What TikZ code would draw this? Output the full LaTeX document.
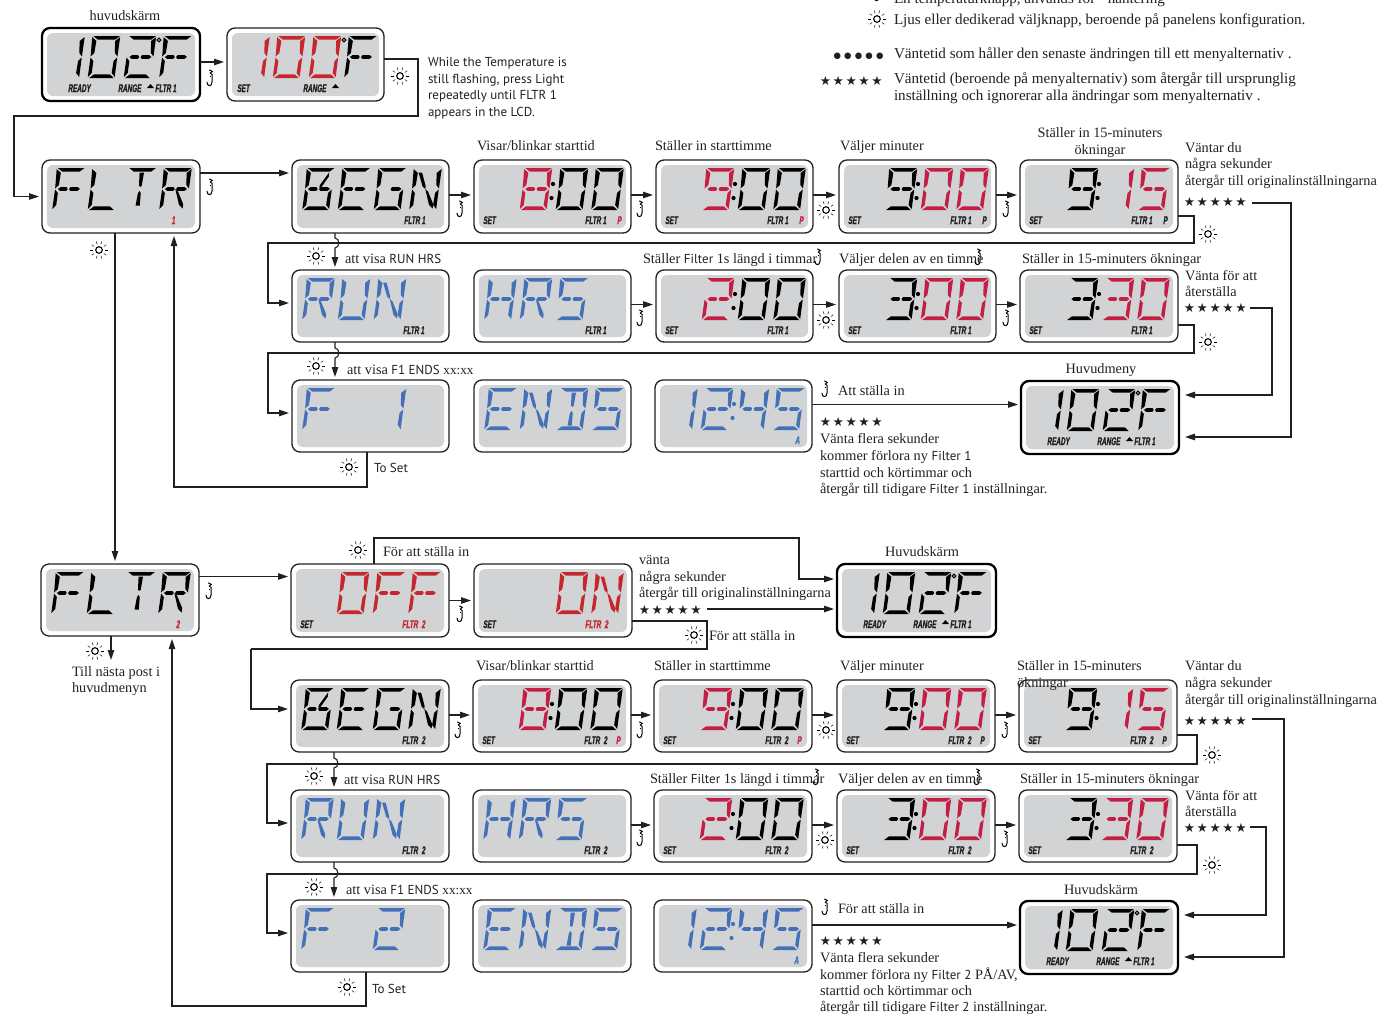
\documentclass[tikz,border=0pt]{standalone}
\usepackage{fontspec}
\usetikzlibrary{arrows.meta}
\setmainfont{Liberation Serif}
\newfontfamily\psans{PT Sans}
\newfontfamily\djv{DejaVu Sans}
\newfontfamily\lcdf[FakeStretch=.58,FakeSlant=.14,FakeBold=1]{Liberation Sans}
\definecolor{lcdgray}{HTML}{D1D3D4}
\definecolor{ink}{HTML}{231F20}
\definecolor{tred}{HTML}{C4272E}
\definecolor{cred}{HTML}{C41E45}
\definecolor{lblue}{HTML}{4470B8}
\tikzset{
 pthin/.style={draw=ink,fill=white,line width=1.3pt,rounded corners=8pt,inner sep=0pt,outer sep=0pt},
 pthick/.style={draw=black,fill=white,line width=2.3pt,rounded corners=8pt,inner sep=0pt,outer sep=0pt},
 arr/.style={draw=ink,line width=1.1pt,-{Triangle[length=10pt,width=6.5pt]},shorten >=3pt},
 wire/.style={draw=ink,line width=1.1pt},
 txt/.style={anchor=base west,inner sep=0pt,outer sep=0pt,text=ink,font=\fontsize{14.3}{16}\selectfont},
 ltxt/.style={txt,font=\fontsize{15.1}{17}\selectfont},
 ctxt/.style={txt,anchor=base},
 stxt/.style={txt,font=\psans\fontsize{13}{16}\selectfont},
 lcdl/.style={anchor=base west,inner sep=0pt,outer sep=0pt,text=ink,font=\lcdf\bfseries\fontsize{11}{11}\selectfont},
}
\newcount\nn
\newcommand\TT[4][txt]{\global\advance\nn 1 \node[#1] (t\the\nn) at (#2,#3) {#4};}
\newcommand\SF[1]{{\psans\fontsize{13}{16}\selectfont #1}}
\newcommand\XX{{\fontsize{13.2}{16}\selectfont xx:xx}}
\newcommand\fivestars{{\djv\fontsize{12.6}{14}\selectfont\makebox[12.9pt]{★}\makebox[12.9pt]{★}\makebox[12.9pt]{★}\makebox[12.9pt]{★}\makebox[12.9pt]{★}}}
\newcommand\fivedots{{\djv\fontsize{8.5}{14}\selectfont\makebox[10.6pt]{●}\makebox[10.6pt]{●}\makebox[10.6pt]{●}\makebox[10.6pt]{●}\makebox[10.6pt]{●}}}
% panel
\newcommand\panel[6]{%
 \node[#1,minimum width=#5pt,minimum height=#6pt,anchor=north west] (#2) at (#3,#4) {};
 \fill[lcdgray,rounded corners=6pt] (#3+5,#4+5) rectangle (#3+#5-5,#4+#6-5);
 \gdef\curx{#3}\gdef\cury{#4}}
% segments
\def\sga{\fill (1.2,0)--(27.8,0)--(23.5,3.6)--(6,3.6)--cycle;}
\def\sgd{\fill (1.6,42)--(26.2,42)--(22,38.4)--(6,38.4)--cycle;}
\def\sgf{\fill (0.2,1)--(4.8,5)--(4.1,17)--(0.8,20.5)--cycle;}
\def\sge{\fill (0.8,21.5)--(4,25)--(3.7,37)--(0.2,41)--cycle;}
\def\sgb{\fill (28.2,1)--(27.6,20.5)--(24.6,17)--(23.6,5)--cycle;}
\def\sgc{\fill (27.5,21.5)--(27.1,41)--(23.6,37)--(24.2,25)--cycle;}
\def\sgg{\fill (3.6,21)--(6,19.2)--(12.2,19.2)--(13.4,21)--(12.2,22.8)--(6,22.8)--cycle;}
\def\sgh{\fill (14.8,21)--(16,19.2)--(23.4,19.2)--(25.6,21)--(23.4,22.8)--(16,22.8)--cycle;}
\def\sgj{\fill (12,4.5)--(16.4,4.5)--(15.6,17.5)--(14.2,19)--(12.8,17.5)--cycle;}
\def\sgl{\fill (14,23)--(15.4,25)--(15.8,37.5)--(11.6,37.5)--(12.6,25)--cycle;}
\def\sgi{\fill (5.5,4.5)--(9,4.5)--(14,18)--(14,21)--(11,18.5)--cycle;}
\def\sgn{\fill (14,21)--(17,23.5)--(23.5,36)--(23.5,40.5)--(19.5,37)--cycle;}
\def\sgk{\fill (23,4.5)--(23.2,8.5)--(17,19)--(14.6,19.5)--(15.5,16.5)--cycle;}
% characters
\def\cF{a,f,e,g,h}\def\cL{f,e,d}\def\cT{a,j,l}\def\cR{a,f,e,b,g,h,n}
\def\cB{a,f,e,d,c,g,h,k}\def\cE{a,f,e,d,g,h}\def\cG{a,f,e,d,c,h}\def\cN{f,e,b,c,i,n}
\def\cU{f,e,d,c,b}\def\cH{f,e,b,c,g,h}\def\cS{a,f,g,h,c,d}\def\cD{a,d,j,l,b,c}
\def\cO{a,b,c,d,e,f}\def\cI{b,c}\def\cII{a,b,g,h,e,d}\def\cIII{a,b,g,h,c,d}\def\cIV{f,b,g,h,c}
\def\cVIII{a,b,c,d,e,f,g,h}\def\cIX{a,f,b,g,h,c,d}
\def\SA{10}\def\SB{45.5}\def\SC{81.5}\def\SD{117}
\newcommand\ch[3]{\begin{scope}[shift={({\curx+#1+4.6},{\cury+8})},xslant=0.11,fill=#2]\foreach \s in #3 {\csname sg\s\endcsname}\end{scope}}
\newcommand\coln[1]{\fill[#1] (\curx+79,\cury+24) circle (2.1); \fill[#1] (\curx+77.5,\cury+38) circle (2.1);}
\newcommand\degr{\draw[black,line width=1.1pt] (\curx+117,\cury+12) circle (1.9);}
\newcommand\lcl[2]{\global\advance\nn 1 \node[lcdl] (t\the\nn) at (\curx+#1,\cury+64) {#2};}
\newcommand\tri[1]{\fill[black] (\curx+#1,\cury+60)--(\curx+#1+7,\cury+60)--(\curx+#1+3.5,\cury+56)--cycle;}
% icons
\newcommand\sun[2]{\begin{scope}[shift={(#1,#2)}]\draw[black,line width=1.1pt] (0,0) circle (3.3);
 \foreach \a in {0,36,...,324}{\draw[black,line width=.45pt] (\a:6) -- (\a:9);}\end{scope}}
\newcommand\hook[2]{\begin{scope}[shift={(#1,#2)}]\draw[black,line width=1pt,line cap=round] (-1.5,-9)--(1.2,-7.6)--(-.6,-6)--(1,-4.6)--(1,3) .. controls (1,7.8) and (-4,7.8) .. (-4,3.2);\draw[black,line width=.7pt] (-1.2,-2.5)--(.4,-2.5);\end{scope}}
\newcommand\readyrow{\lcl{26}{READY}\lcl{76}{RANGE}\tri{105}\lcl{113}{FLTR 1}}
\begin{document}
\begin{tikzpicture}[x=1pt,y=-1pt]
\useasboundingbox (0,0) rectangle (1390,1013);
% ---------- Section 1 panels
\panel{pthick}{p00}{42}{28}{158}{73}
\ch{\SA}{black}{\cI}\ch{\SB}{black}{\cO}\ch{\SC}{black}{\cII}\ch{\SD}{black}{\cF}\degr\readyrow
\panel{pthin}{p01}{227}{28}{157}{73}
\ch{\SA}{tred}{\cI}\ch{\SB}{tred}{\cO}\ch{\SC}{tred}{\cO}\ch{\SD}{black}{\cF}\degr\lcl{10}{SET}\lcl{76}{RANGE}\tri{105}
\panel{pthin}{f1}{42}{160}{158}{73}
\ch{\SA}{black}{\cF}\ch{\SB}{black}{\cL}\ch{\SC}{black}{\cT}\ch{\SD}{black}{\cR}\lcl{129.5}{\textcolor{tred}{1}}
\panel{pthin}{b1}{292}{160}{157}{73}
\ch{\SA}{black}{\cB}\ch{\SB}{black}{\cE}\ch{\SC}{black}{\cG}\ch{\SD}{black}{\cN}\lcl{112}{FLTR 1}
\panel{pthin}{s1a}{474}{160}{157}{73}
\ch{\SB}{cred}{\cVIII}\coln{black}\ch{\SC}{black}{\cO}\ch{\SD}{black}{\cO}\lcl{9}{SET}\lcl{111}{FLTR 1}\lcl{143}{\textcolor{cred}{P}}
\panel{pthin}{s1b}{656}{160}{157}{73}
\ch{\SB}{cred}{\cIX}\coln{black}\ch{\SC}{black}{\cO}\ch{\SD}{black}{\cO}\lcl{9}{SET}\lcl{111}{FLTR 1}\lcl{143}{\textcolor{cred}{P}}
\panel{pthin}{s1c}{839}{160}{157}{73}
\ch{\SB}{black}{\cIX}\coln{black}\ch{\SC}{cred}{\cO}\ch{\SD}{cred}{\cO}\lcl{9}{SET}\lcl{111}{FLTR 1}\lcl{143}{P}
\panel{pthin}{s1d}{1020}{160}{158}{73}
\ch{\SB}{black}{\cIX}\coln{black}\ch{\SC}{cred}{\cI}\ch{\SD}{cred}{\cS}\lcl{9}{SET}\lcl{111}{FLTR 1}\lcl{143}{P}
% row 2
\panel{pthin}{r1}{292}{270}{157}{72}
\ch{\SA}{lblue}{\cR}\ch{\SB}{lblue}{\cU}\ch{\SC}{lblue}{\cN}\lcl{111}{FLTR 1}
\panel{pthin}{h1}{474}{270}{157}{72}
\ch{\SA}{lblue}{\cH}\ch{\SB}{lblue}{\cR}\ch{\SC}{lblue}{\cS}\lcl{111}{FLTR 1}
\panel{pthin}{u1a}{656}{270}{157}{72}
\ch{\SB}{cred}{\cII}\coln{black}\ch{\SC}{black}{\cO}\ch{\SD}{black}{\cO}\lcl{9}{SET}\lcl{111}{FLTR 1}
\panel{pthin}{u1b}{839}{270}{157}{72}
\ch{\SB}{black}{\cIII}\coln{black}\ch{\SC}{cred}{\cO}\ch{\SD}{cred}{\cO}\lcl{9}{SET}\lcl{111}{FLTR 1}
\panel{pthin}{u1c}{1020}{270}{158}{72}
\ch{\SB}{black}{\cIII}\coln{black}\ch{\SC}{cred}{\cIII}\ch{\SD}{cred}{\cO}\lcl{9}{SET}\lcl{111}{FLTR 1}
% row 3
\panel{pthin}{fp1}{292}{380}{157}{72}
\ch{\SA}{lblue}{\cF}\ch{\SC}{lblue}{\cI}
\panel{pthin}{e1}{474}{380}{157}{72}
\ch{\SA}{lblue}{\cE}\ch{\SB}{lblue}{\cN}\ch{\SC}{lblue}{\cD}\ch{\SD}{lblue}{\cS}
\panel{pthin}{c1}{655}{380}{157}{72}
\ch{\SA}{lblue}{\cI}\ch{\SB}{lblue}{\cII}\coln{lblue}\ch{\SC}{lblue}{\cIV}\ch{\SD}{lblue}{\cS}\lcl{140}{\textcolor{lblue}{A}}
\panel{pthick}{hm1}{1021}{381}{158}{73}
\ch{\SA}{black}{\cI}\ch{\SB}{black}{\cO}\ch{\SC}{black}{\cII}\ch{\SD}{black}{\cF}\degr\readyrow
% ---------- Section 2 panels
\panel{pthin}{f2}{41}{564}{158}{72}
\ch{\SA}{black}{\cF}\ch{\SB}{black}{\cL}\ch{\SC}{black}{\cT}\ch{\SD}{black}{\cR}\lcl{135}{\textcolor{tred}{2}}
\panel{pthin}{off}{291}{564}{158}{73}
\ch{\SB}{tred}{\cO}\ch{\SC}{tred}{\cF}\ch{\SD}{tred}{\cF}\lcl{9}{SET}\lcl{111}{\textcolor{tred}{FLTR\,\,2}}
\panel{pthin}{on}{474}{564}{158}{73}
\ch{\SC}{tred}{\cO}\ch{\SD}{tred}{\cN}\lcl{9}{SET}\lcl{111}{\textcolor{tred}{FLTR\,\,2}}
\panel{pthick}{hs}{837}{564}{159}{73}
\ch{\SA}{black}{\cI}\ch{\SB}{black}{\cO}\ch{\SC}{black}{\cII}\ch{\SD}{black}{\cF}\degr\readyrow
\panel{pthin}{b2}{291}{680}{158}{72}
\ch{\SA}{black}{\cB}\ch{\SB}{black}{\cE}\ch{\SC}{black}{\cG}\ch{\SD}{black}{\cN}\lcl{111}{FLTR\,\,2}
\panel{pthin}{s2a}{473}{680}{158}{72}
\ch{\SB}{cred}{\cVIII}\coln{black}\ch{\SC}{black}{\cO}\ch{\SD}{black}{\cO}\lcl{9}{SET}\lcl{111}{FLTR\,\,2}\lcl{143}{\textcolor{cred}{P}}
\panel{pthin}{s2b}{654}{680}{158}{72}
\ch{\SB}{cred}{\cIX}\coln{black}\ch{\SC}{black}{\cO}\ch{\SD}{black}{\cO}\lcl{9}{SET}\lcl{111}{FLTR\,\,2}\lcl{143}{\textcolor{cred}{P}}
\panel{pthin}{s2c}{837}{680}{158}{72}
\ch{\SB}{black}{\cIX}\coln{black}\ch{\SC}{cred}{\cO}\ch{\SD}{cred}{\cO}\lcl{9}{SET}\lcl{111}{FLTR\,\,2}\lcl{143}{P}
\panel{pthin}{s2d}{1019}{680}{158}{72}
\ch{\SB}{black}{\cIX}\coln{black}\ch{\SC}{cred}{\cI}\ch{\SD}{cred}{\cS}\lcl{9}{SET}\lcl{111}{FLTR\,\,2}\lcl{143}{P}
\panel{pthin}{r2}{291}{790}{158}{72}
\ch{\SA}{lblue}{\cR}\ch{\SB}{lblue}{\cU}\ch{\SC}{lblue}{\cN}\lcl{111}{FLTR\,\,2}
\panel{pthin}{h2}{473}{790}{158}{72}
\ch{\SA}{lblue}{\cH}\ch{\SB}{lblue}{\cR}\ch{\SC}{lblue}{\cS}\lcl{111}{FLTR\,\,2}
\panel{pthin}{u2a}{654}{790}{158}{72}
\ch{\SB}{cred}{\cII}\coln{black}\ch{\SC}{black}{\cO}\ch{\SD}{black}{\cO}\lcl{9}{SET}\lcl{111}{FLTR\,\,2}
\panel{pthin}{u2b}{837}{790}{158}{72}
\ch{\SB}{black}{\cIII}\coln{black}\ch{\SC}{cred}{\cO}\ch{\SD}{cred}{\cO}\lcl{9}{SET}\lcl{111}{FLTR\,\,2}
\panel{pthin}{u2c}{1019}{790}{158}{72}
\ch{\SB}{black}{\cIII}\coln{black}\ch{\SC}{cred}{\cIII}\ch{\SD}{cred}{\cO}\lcl{9}{SET}\lcl{111}{FLTR\,\,2}
\panel{pthin}{fp2}{291}{900}{158}{72}
\ch{\SA}{lblue}{\cF}\ch{\SC}{lblue}{\cII}
\panel{pthin}{e2}{473}{900}{158}{72}
\ch{\SA}{lblue}{\cE}\ch{\SB}{lblue}{\cN}\ch{\SC}{lblue}{\cD}\ch{\SD}{lblue}{\cS}
\panel{pthin}{c2}{654}{900}{158}{72}
\ch{\SA}{lblue}{\cI}\ch{\SB}{lblue}{\cII}\coln{lblue}\ch{\SC}{lblue}{\cIV}\ch{\SD}{lblue}{\cS}\lcl{140}{\textcolor{lblue}{A}}
\panel{pthick}{hm2}{1020}{901}{158}{73}
\ch{\SA}{black}{\cI}\ch{\SB}{black}{\cO}\ch{\SC}{black}{\cII}\ch{\SD}{black}{\cF}\degr\readyrow
% ---------- free corner coordinates
\coordinate (k1) at (14,116);
\coordinate (k2) at (268,243);
\coordinate (k3) at (268,353);
\coordinate (k4) at (251,649);
\coordinate (k5) at (267,764);
\coordinate (k6) at (267,874);
\coordinate (z1) at (1252,203);
\coordinate (z2) at (1250,308);
\coordinate (z3) at (707,609);
\coordinate (z4) at (1252,719);
\coordinate (z5) at (1250,827);
% ---------- connectors section 1
\draw[arr] ([yshift=2.5pt]p00.east) -- ([yshift=2.5pt]p01.west);
\draw[arr] ([yshift=5.5pt]p01.east) -- ++(34,0) |- (k1) |- (f1.west);
\draw[arr] ([yshift=23.5pt]f1.east) -- ([yshift=23.5pt]b1.west);
\foreach \a/\b in {b1/s1a,s1a/s1b,s1b/s1c,s1c/s1d,h1/u1a,u1a/u1b,u1b/u1c}{\draw[arr] ([yshift=1.5pt]\a.east) -- ([yshift=1.5pt]\b.west);}
\draw[arr] ([yshift=-19.5pt]s1d.east) -- ++(16,0) |- (k2) |- ([yshift=3pt]r1.west);
\draw[arr] ([yshift=-19pt]u1c.east) -- ++(16,0) |- (k3) |- ([yshift=3pt]fp1.west);
\draw[arr] ([xshift=-35.5pt]b1.south) -- ++(0,5) .. controls +(5,0) and +(5,0) .. ++(0,10) -- ([xshift=-35.5pt]r1.north);
\draw[arr] ([xshift=-35.5pt]r1.south) -- ++(0,6) .. controls +(5,0) and +(5,0) .. ++(0,10) -- ([xshift=-35.5pt]fp1.north);
\draw[arr] ([yshift=11.5pt]c1.east) -- ([yshift=11.5pt]c1.east -| hm1.west);
\draw[arr,shorten >=6pt] (z1) -- ++(39,0) |- ([yshift=-19.5pt]hm1.east);
\draw[arr,shorten >=6pt] (z2) -- ++(22,0) |- ([yshift=22.5pt]hm1.east);
\draw[arr] ([xshift=-6pt]f1.south) -- ([xshift=-6pt]f1.south |- f2.north);
\draw[arr] ([xshift=-3.5pt]fp1.south) -- ++(0,35) -| ([xshift=53pt]f1.south);
% ---------- connectors section 2
\draw[arr] ([yshift=23.5pt]f2.east) -- ([yshift=23.5pt]f2.east -| off.west);
\draw[arr] (off.east) -- (on.west);
\draw[wire] ([yshift=-20.5pt]on.east) -- ++(75,0) |- (k4);
\draw[arr] (k4) |- ([yshift=7pt]b2.west);
\draw[arr] ([xshift=4pt]off.north) -- ++(0,-26) -| ([xshift=-38pt,yshift=21.5pt]hs.west) -- ([yshift=21.5pt]hs.west);
\draw[arr] (z3) -- (hs.west |- z3);
\draw[arr,shorten >=0pt] ([xshift=-9pt]f2.south) -- ++(0,24);
\draw[arr] ([xshift=-4pt]fp2.south) -- ++(0,34) -| ([xshift=52pt]f2.south);
\foreach \a/\b in {b2/s2a,s2a/s2b,s2b/s2c,s2c/s2d,h2/u2a,u2a/u2b,u2b/u2c}{\draw[arr] ([yshift=1pt]\a.east) -- ([yshift=1pt]\b.west);}
\draw[arr] ([yshift=-19pt]s2d.east) -- ++(20,0) |- (k5) |- ([yshift=3pt]r2.west);
\draw[arr] ([yshift=-19pt]u2c.east) -- ++(20,0) |- (k6) |- ([yshift=3pt]fp2.west);
\draw[arr] ([xshift=-36pt]b2.south) -- ++(0,6) .. controls +(5,0) and +(5,0) .. ++(0,10) -- ([xshift=-36pt]r2.north);
\draw[arr] ([xshift=-36pt]r2.south) -- ++(0,6) .. controls +(5,0) and +(5,0) .. ++(0,10) -- ([xshift=-36pt]fp2.north);
\draw[arr] ([yshift=11pt]c2.east) -- ([yshift=11pt]c2.east -| hm2.west);
\draw[arr,shorten >=6pt] (z4) -- ++(32,0) |- ([yshift=-19.5pt]hm2.east);
\draw[arr,shorten >=6pt] (z5) -- ++(16,0) |- ([yshift=22.5pt]hm2.east);
% ---------- icons
\foreach \x/\y in {400/76,99/250,316/256,1208/234,826/210,826/320,1208/342,316/366,349/467,358/550,694/635,95/651,826/730,825/840,1212/755,1212/865,314/776,314/887,347/987,877/19}{\sun{\x}{\y}}
\foreach \x/\y in {211/79,211/188,461/210,641/210,1007/210,641/319,1007/319,819/258,979/258,826/390,210/592,461/615,459/731,641/731,1006/731,641/839,1006/840,817/778,978/778,826/908,878/-6}{\hook{\x}{\y}}
% ---------- texts
\TT[ctxt]{125}{20}{huvudskärm}
\TT[stxt]{428}{66}{While the Temperature is}
\TT[stxt]{428}{83}{still flashing, press Light}
\TT[stxt]{428}{99}{repeatedly until FLTR 1}
\TT[stxt]{428}{116}{appears in the LCD.}
\TT[ltxt]{894}{3}{En temperaturknapp, används för - hantering}
\TT[ltxt]{894}{24}{Ljus eller dedikerad väljknapp, beroende på panelens konfiguration.}
\TT[ltxt]{894}{58}{Väntetid som håller den senaste ändringen till ett menyalternativ .}
\TT[ltxt]{894}{83}{Väntetid (beroende på menyalternativ) som återgår till ursprunglig}
\TT[ltxt]{894}{100}{inställning och ignorerar alla ändringar som menyalternativ .}
\TT{832}{58}{\fivedots}
\TT{819}{85}{\fivestars}
\TT{477}{150}{Visar/blinkar starttid}
\TT{655}{150}{Ställer in starttimme}
\TT{840}{150}{Väljer minuter}
\TT[ctxt]{1100}{137}{Ställer in 15-minuters}
\TT[ctxt]{1100}{154}{ökningar}
\TT{1185}{152}{Väntar du}
\TT{1185}{168}{några sekunder}
\TT{1185}{185}{återgår till originalinställningarna}
\TT{1183}{206}{\fivestars}
\TT{345}{263}{att visa \SF{RUN HRS}}
\TT{643}{263}{Ställer \SF{Filter} 1s längd i timmar}
\TT{839}{263}{Väljer delen av en timme}
\TT{1022}{263}{Ställer in 15-minuters ökningar}
\TT{1185}{280}{Vänta för att}
\TT{1185}{296}{återställa}
\TT{1183}{312}{\fivestars}
\TT{347}{374}{att visa \SF{F1 ENDS} \XX}
\TT[stxt]{374}{472}{To Set}
\TT[ctxt]{1101}{373}{Huvudmeny}
\TT{838}{395}{Att ställa in}
\TT{819}{426}{\fivestars}
\TT{820}{443}{Vänta flera sekunder}
\TT{820}{460}{kommer förlora ny \SF{Filter 1}}
\TT{820}{477}{starttid och körtimmar och}
\TT{820}{493}{återgår till tidigare \SF{Filter 1} inställningar.}
\TT{383}{556}{För att ställa in}
\TT{639}{564}{vänta}
\TT{639}{581}{några sekunder}
\TT{639}{597}{återgår till originalinställningarna}
\TT{638}{614}{\fivestars}
\TT[ctxt]{922}{556}{Huvudskärm}
\TT{709}{640}{För att ställa in}
\TT{72}{676}{Till nästa post i}
\TT{72}{692}{huvudmenyn}
\TT{476}{670}{Visar/blinkar starttid}
\TT{654}{670}{Ställer in starttimme}
\TT{840}{670}{Väljer minuter}
\TT{1017}{670}{Ställer in 15-minuters}
\TT{1017}{687}{ökningar}
\TT{1185}{670}{Väntar du}
\TT{1185}{687}{några sekunder}
\TT{1185}{704}{återgår till originalinställningarna}
\TT{1183}{725}{\fivestars}
\TT{344}{784}{att visa \SF{RUN HRS}}
\TT{650}{783}{Ställer \SF{Filter} 1s längd i timmar}
\TT{838}{783}{Väljer delen av en timme}
\TT{1020}{783}{Ställer in 15-minuters ökningar}
\TT{1185}{800}{Vänta för att}
\TT{1185}{816}{återställa}
\TT{1183}{832}{\fivestars}
\TT{346}{894}{att visa \SF{F1 ENDS} \XX}
\TT[stxt]{372}{993}{To Set}
\TT[ctxt]{1101}{894}{Huvudskärm}
\TT{838}{913}{För att ställa in}
\TT{819}{945}{\fivestars}
\TT{820}{962}{Vänta flera sekunder}
\TT{820}{979}{kommer förlora ny \SF{Filter 2} PÅ/AV,}
\TT{820}{995}{starttid och körtimmar och}
\TT{820}{1011}{återgår till tidigare \SF{Filter 2} inställningar.}
\end{tikzpicture}
\end{document}
